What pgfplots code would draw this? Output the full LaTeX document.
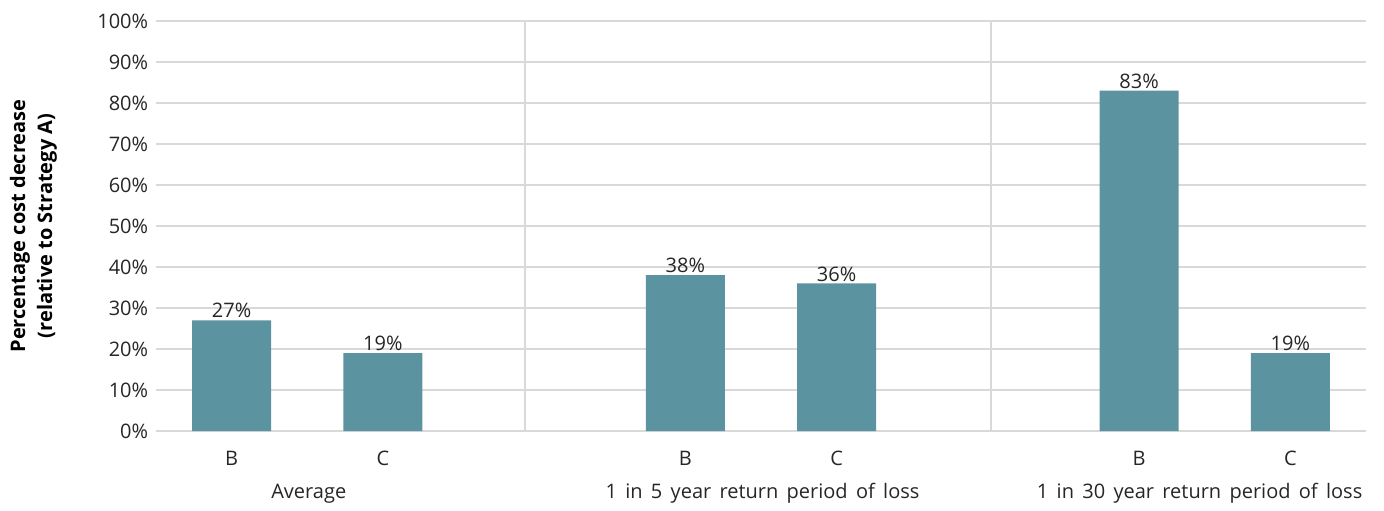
\documentclass[border=0pt]{standalone}
\usepackage{pgfplots}
\pgfplotsset{compat=1.18}
\usepackage{fontspec}
\setmainfont{Open Sans}
\newfontfamily\grpfont[WordSpace=1.6]{Open Sans}
\definecolor{barteal}{HTML}{5B93A0}
\definecolor{gridgray}{HTML}{D9D9D9}
\definecolor{labelgray}{HTML}{262626}
\begin{document}
\fontsize{20bp}{24bp}\selectfont
\begin{tikzpicture}
\begin{axis}[
  name=ax,
  scale only axis,
  width=1210bp, height=410bp,
  xmin=-0.5, xmax=7.5,
  ymin=0, ymax=100,
  ytick={0,10,...,100},
  yticklabel={\pgfmathprintnumber{\tick}\%},
  xtick={0,1,3,4,6,7},
  xticklabels={B,C,B,C,B,C},
  /pgf/number format/assume math mode=true,
  ymajorgrids,
  major grid style={gridgray, line width=1.2bp},
  axis line style={draw=none},
  tick style={draw=none},
  tick label style={font=\fontsize{20bp}{24bp}\selectfont, text=labelgray},
  yticklabel style={xshift=-1bp},
  xticklabel style={yshift=-13bp},
  ylabel={\textbf{Percentage cost decrease}\\\textbf{(relative to Strategy A)}},
  ylabel style={align=center, font=\fontsize{20bp}{27bp}\selectfont, text=black},
  ylabel shift=27bp,
  clip=false,
]
\draw[gridgray, line width=1.2bp] (axis cs:1.94,0) -- (axis cs:1.94,100);
\draw[gridgray, line width=1.2bp] (axis cs:5.02,0) -- (axis cs:5.02,100);
\addplot[ybar, bar width=79bp, fill=barteal, draw=none,
  nodes near coords={\pgfmathprintnumber{\pgfplotspointmeta}\%},
  nodes near coords style={font=\fontsize{20bp}{24bp}\selectfont, text=labelgray, inner sep=1bp, yshift=1bp}]
  coordinates {(0,27) (1,19) (3,38) (4,36) (6,83) (7,19)};
\node[font=\grpfont\fontsize{20bp}{24bp}\selectfont, text=labelgray] at (axis cs:0.51,-15.2) {Average};
\node[font=\grpfont\fontsize{20bp}{24bp}\selectfont, text=labelgray] at (axis cs:3.51,-15.2) {1 in 5 year return period of loss};
\node[font=\grpfont\fontsize{20bp}{24bp}\selectfont, text=labelgray] at (axis cs:6.40,-15.2) {1 in 30 year return period of loss};
\end{axis}
\pgfresetboundingbox
\path[use as bounding box] ([xshift=-156bp,yshift=-79bp]ax.south west) rectangle ([xshift=18bp,yshift=21bp]ax.north east);
\end{tikzpicture}
\end{document}
